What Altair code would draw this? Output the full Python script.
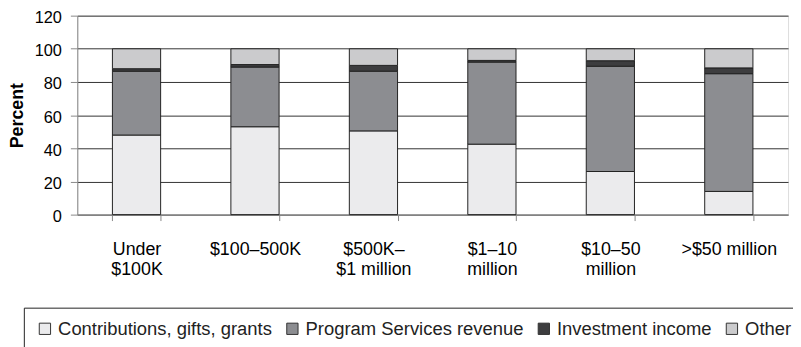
import altair as alt
import pandas as pd

categories = ["Under|$100K", "$100–500K", "$500K–|$1 million", "$1–10|million", "$10–50|million", ">$50 million"]
series = ["Contributions, gifts, grants", "Program Services revenue", "Investment income", "Other"]
contributions = [48, 53, 50.5, 42.5, 26, 14]
program = [38.5, 36, 36, 49.5, 63.5, 71]
investment = [1.5, 1.5, 3.5, 1, 3.3, 3.5]
other = [12, 9.5, 10, 7, 7.2, 11.5]
colors = ["#ebebed", "#8c8d91", "#3d3d3f", "#cbcbcd"]

rows = []
for si, (name, vals) in enumerate(zip(series, [contributions, program, investment, other])):
    for c, v in zip(categories, vals):
        rows.append({"category": c, "series": name, "value": v, "order": si})
df = pd.DataFrame(rows)

FONT = "Liberation Sans"

chart = alt.Chart(df).mark_bar(stroke="#222", strokeWidth=1).encode(
    x=alt.X("category:N", sort=categories,
            scale=alt.Scale(paddingInner=0.593, paddingOuter=0.2965),
            axis=alt.Axis(title=None, labelAngle=0, tickBand="extent",
                          labelExpr="split(datum.label, '|')",
                          labelFontSize=18, labelLineHeight=20, labelPadding=20,
                          tickSize=6, labelBaseline="top")),
    y=alt.Y("value:Q", stack="zero",
            scale=alt.Scale(domain=[0, 120], nice=False),
            axis=alt.Axis(title="Percent", values=[0, 20, 40, 60, 80, 100, 120],
                          labelFontSize=16.5, labelPadding=9, tickSize=7, labelOffset=2,
                          titleFontSize=18, titleFontWeight="bold", titlePadding=8,
                          grid=True, gridColor="#333", gridWidth=1)),
    color=alt.Color("series:N", scale=alt.Scale(domain=series, range=colors),
                    legend=alt.Legend(orient="none", legendX=-54, legendY=295,
                                      direction="horizontal", columns=4, title=None,
                                      strokeColor="#222", padding=12, fillColor="white",
                                      symbolType="square", symbolSize=130,
                                      symbolStrokeColor="#333", symbolStrokeWidth=1,
                                      labelFontSize=18.6, labelFont=FONT, labelColor="#222",
                                      labelLimit=0, columnPadding=11, labelOffset=4)),
    order=alt.Order("order:Q", sort="ascending"),
).properties(
    width=718, height=201,
    padding={"left": 70, "top": 6, "right": 5, "bottom": 132},
    autosize=alt.AutoSizeParams(type="none"),
).configure_view(
    fill="#f0f0f2", stroke="#222", strokeWidth=1
).configure_axis(
    labelFont=FONT, titleFont=FONT, labelColor="#222", titleColor="#111",
    domainColor="#222", tickColor="#222"
).configure(background="white")

chart.save("out.html", embed_options={"renderer": "svg", "actions": False})
